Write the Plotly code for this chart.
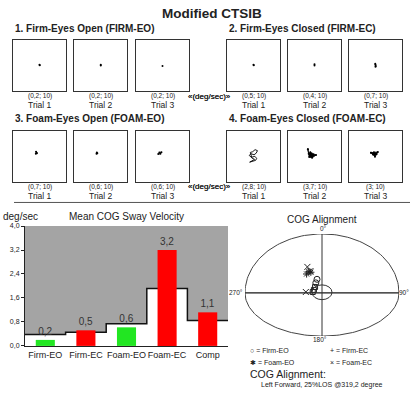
import numpy as np
import plotly.graph_objects as go

W, H = 418, 400

# ---------------- data ----------------
headers = ["1. Firm-Eyes Open (FIRM-EO)", "2. Firm-Eyes Closed (FIRM-EC)",
           "3. Foam-Eyes Open (FOAM-EO)", "4. Foam-Eyes Closed (FOAM-EC)"]
trial_labels = ["Trial 1", "Trial 2", "Trial 3"]
scale_value = 10
vel_firm_eo = [0.2, 0.2, 0.2]
vel_firm_ec = [0.5, 0.4, 0.7]
vel_foam_eo = [0.7, 0.6, 0.6]
vel_foam_ec = [2.8, 3.7, 3.0]

# sway traces (deg units inside each trial box, range -10..10)
sway_firm_eo_x = [[0.0, 0.1], [0.1, 0.1], [0.0]]
sway_firm_eo_y = [[0.4, 0.3], [0.4, 0.2], [0.0]]
sway_firm_ec_x = [[0.0, 0.1], [0.0, 0.0], [-0.1, 0.0, 0.1, 0.0]]
sway_firm_ec_y = [[0.4, 0.3], [0.6, 0.2], [0.8, 0.4, 0.0, -0.3]]
sway_foam_eo_x = [[-1.4, -1.1, -1.3, -1.0], [-1.5, -1.2, -1.4], [-1.6, -0.8, -0.4, -1.2]]
sway_foam_eo_y = [[1.0, 1.4, 1.8, 1.2], [1.0, 1.2, 1.5], [0.9, 1.0, 1.6, 1.5]]
sway_foam_ec_x = [[-1.5, -0.5, 0.8, 1.2, 0.5, -0.8, -1.6, -1.0, 0.2, 1.0, 1.5, 0.6, -0.3, -1.2, -0.6, 0.4, -1.4],
                  [-2.5, -2.2, -1.6, 0.6, -0.9, -2.0, -2.5],
                  [-1.7, -0.6, 0.9, 0.4, -0.2, -1.0, -1.7]]
sway_foam_ec_y = [[-2.3, -2.0, -1.6, -0.8, 0.0, -0.4, 0.3, 1.0, 0.6, 1.2, 2.2, 2.6, 1.8, 1.5, -0.7, -1.2, -2.3],
                  [2.8, 1.0, 1.6, 0.5, -0.6, -0.3, 2.8],
                  [1.4, 1.6, 1.7, 0.8, -0.2, 0.7, 1.4]]

bar_categories = ["Firm-EO", "Firm-EC", "Foam-EO", "Foam-EC", "Comp"]
bar_values = [0.2, 0.52, 0.62, 3.2, 1.12]
norm_values = [0.38, 0.46, 0.74, 1.92, 0.85]
y_ticks = [0.0, 0.8, 1.6, 2.4, 3.2, 4.0]

# COG alignment points (%LOS, x = left/right, y = forward/back)
cog_firm_eo_x = [-6.5, -8.0]
cog_firm_eo_y = [23.0, 17.0]
cog_firm_ec_x = [-9.0, -10.5, -12.0]
cog_firm_ec_y = [10.0, 5.0, 1.5]
cog_foam_eo_x = [-17.0, -20.0, -14.5]
cog_foam_eo_y = [36.0, 32.0, 35.0]
cog_foam_ec_x = [-19.0, -15.0, -21.0]
cog_foam_ec_y = [44.0, 37.0, 1.5]
los_forward, los_back, los_side = 100.0, 73.3, 100.0
cog_summary = "Left Forward, 25%LOS @319,2 degree"


def fmt(v):
    return ("%g" % v).replace(".", ",")


def px(x):
    return x / W


def py(y):
    return 1 - y / H


fig = go.Figure()
layout = dict(width=W, height=H, margin=dict(l=0, r=0, t=0, b=0),
              paper_bgcolor="white", plot_bgcolor="white", showlegend=False,
              separators=", ", font=dict(family="Liberation Sans, Arial", color="#222"))
annotations = []
shapes = []


def ann(text, x, y, size, bold=False, xanchor="center", color="#222"):
    annotations.append(dict(text=("<b>%s</b>" % text) if bold else text, x=px(x), y=py(y),
                            xref="paper", yref="paper", showarrow=False, xanchor=xanchor,
                            yanchor="middle", borderpad=0, font=dict(size=size, color=color)))


ann("Modified CTSIB", 212, 10, 13.5, bold=True)

box_x = [13, 74, 136, 227, 288, 349]
box_y = [37, 129]
box_w, box_h = 53, 52
conds = [(vel_firm_eo, sway_firm_eo_x, sway_firm_eo_y),
         (vel_firm_ec, sway_firm_ec_x, sway_firm_ec_y),
         (vel_foam_eo, sway_foam_eo_x, sway_foam_eo_y),
         (vel_foam_ec, sway_foam_ec_x, sway_foam_ec_y)]
header_pos = [(14, 25), (228, 25), (14, 117), (228, 117)]

ax_i = 0
for c, (vels, sx, sy) in enumerate(conds):
    row = c // 2
    col0 = (c % 2) * 3
    ann(headers[c], header_pos[c][0], header_pos[c][1], 10, bold=True, xanchor="left")
    for t in range(3):
        ax_i += 1
        n = "" if ax_i == 1 else str(ax_i)
        x0 = box_x[col0 + t]
        y0 = box_y[row]
        layout["xaxis" + n] = dict(domain=[px(x0), px(x0 + box_w)], range=[-10, 10],
                                   showgrid=False, zeroline=False, showticklabels=False,
                                   showline=True, mirror=True, linecolor="#333", linewidth=1,
                                   anchor="y" + n, fixedrange=True)
        layout["yaxis" + n] = dict(domain=[py(y0 + box_h), py(y0)], range=[-10, 10],
                                   showgrid=False, zeroline=False, showticklabels=False,
                                   showline=True, mirror=True, linecolor="#333", linewidth=1,
                                   anchor="x" + n, fixedrange=True)
        filled = c == 3 and t > 0
        scribble = c == 3 and t == 0
        fig.add_trace(go.Scatter(x=sx[t], y=sy[t], xaxis="x" + n, yaxis="y" + n,
                                 mode="lines" if scribble else ("lines+markers" if len(sx[t]) > 1 else "markers"),
                                 fill="toself" if filled else None, fillcolor="black",
                                 line=dict(color="black", width=0.9),
                                 marker=dict(size=2, color="black")))
        cx = x0 + box_w / 2
        ann("(%s; %d)" % (fmt(vels[t]), scale_value), cx, y0 + box_h + 5, 6.5)
        ann(trial_labels[t], cx, y0 + box_h + 14, 8.5)
    ann("«(deg/sec)»", 209, box_y[row] + box_h + 5, 8)

shapes.append(dict(type="line", xref="paper", yref="paper", x0=px(14), x1=px(410),
                   y0=py(202), y1=py(202), line=dict(color="#555", width=1)))

# ---------------- bar chart ----------------
layout["xaxis14"] = dict(domain=[px(25), px(228)], range=[-0.5, 4.5], anchor="y14",
                         tickvals=list(range(len(bar_categories))), ticktext=bar_categories,
                         tickangle=0, tickfont=dict(size=9, color="#222"), showgrid=False,
                         zeroline=False, showline=True, linecolor="#222", linewidth=1,
                         ticks="", fixedrange=True)
layout["yaxis14"] = dict(domain=[py(348), py(226)], range=[0, 4], anchor="x14",
                         tickvals=y_ticks, tickformat=".1f", tickfont=dict(size=7, color="#222"),
                         showgrid=False, zeroline=False, showline=True, linecolor="#222",
                         linewidth=1, ticks="outside", ticklen=3, tickcolor="#222", fixedrange=True)
layout["xaxis16"] = dict(overlaying="x14", range=[-0.5, 4.5], visible=False, fixedrange=True)
layout["yaxis16"] = dict(overlaying="y14", range=[0, 4], visible=False, fixedrange=True)
shapes.append(dict(type="rect", xref="x14", yref="y14", x0=-0.5, x1=4.5, y0=0, y1=4,
                   fillcolor="#a4a4a4", line=dict(width=0), layer="below"))
step_x = [i - 0.5 for i in range(len(norm_values) + 1)]
step_y = norm_values + [norm_values[-1]]
fig.add_trace(go.Scatter(x=step_x, y=step_y, xaxis="x14", yaxis="y14", mode="lines",
                         line=dict(shape="hv", color="#111", width=1.5),
                         fill="tozeroy", fillcolor="white"))
bar_colors = ["#22e622" if "EO" in c else "#ff0000" for c in bar_categories]
fig.add_trace(go.Bar(x=list(range(len(bar_categories))), y=bar_values, xaxis="x16", yaxis="y16",
                     marker=dict(color=bar_colors, line=dict(width=0)), width=0.47,
                     texttemplate="%{y:.1f}", textposition="outside",
                     textfont=dict(size=10, color="#333"), cliponaxis=False))
ann("deg/sec", 2, 216, 10, xanchor="left")
ann("Mean COG Sway Velocity", 127, 216, 10)

# ---------------- COG alignment ----------------
layout["xaxis15"] = dict(domain=[px(245), px(399)], range=[-los_side, los_side], anchor="y15",
                         visible=False, fixedrange=True)
layout["yaxis15"] = dict(domain=[py(338), py(234)], range=[-los_back, los_forward], anchor="x15",
                         visible=False, fixedrange=True)
t = np.linspace(0, np.pi, 90)
ex = np.concatenate([los_side * np.cos(t), los_side * np.cos(t[::-1] + np.pi)])
ey = np.concatenate([los_forward * np.sin(t), los_back * np.sin(t[::-1] + np.pi)])
fig.add_trace(go.Scatter(x=ex, y=ey, xaxis="x15", yaxis="y15", mode="lines",
                         line=dict(color="#444", width=1)))
shapes.append(dict(type="line", xref="x15", yref="y15", x0=0, x1=0, y0=-los_back, y1=los_forward,
                   line=dict(color="#333", width=1)))
shapes.append(dict(type="line", xref="x15", yref="y15", x0=-los_side, x1=los_side, y0=0, y1=0,
                   line=dict(color="#333", width=1)))
shapes.append(dict(type="circle", xref="x15", yref="y15", x0=-13, x1=13, y0=-11.5, y1=13.5,
                   line=dict(color="#333", width=1)))
for xs, ys, sym, sz in [(cog_firm_eo_x, cog_firm_eo_y, "circle-open", 6),
                        (cog_firm_ec_x, cog_firm_ec_y, "square-open", 5),
                        (cog_foam_eo_x, cog_foam_eo_y, "asterisk-open", 6),
                        (cog_foam_ec_x, cog_foam_ec_y, "x-thin-open", 6)]:
    fig.add_trace(go.Scatter(x=xs, y=ys, xaxis="x15", yaxis="y15", mode="markers",
                             marker=dict(symbol=sym, size=sz, color="#222",
                                         line=dict(color="#222", width=1))))
ann("COG Alignment", 322, 219, 10)
ann("0°", 323, 229, 6.5)
ann("180°", 320, 341, 6.5)
ann("270°", 236, 294, 6.5)
ann("90°", 404, 294, 6.5)
ann("○ = Firm-EO", 249, 353, 7, xanchor="left")
ann("+ = Firm-EC", 329, 353, 7, xanchor="left")
ann("✱ = Foam-EO", 249, 365, 7, xanchor="left")
ann("× = Foam-EC", 329, 365, 7, xanchor="left")
ann("COG Alignment:", 249, 377, 10.5, xanchor="left")
ann(cog_summary, 260, 388, 7, xanchor="left")

layout["annotations"] = annotations
layout["shapes"] = shapes
fig.update_layout(**layout)
fig.write_html("out.html", config={"displayModeBar": False},
               post_script="document.body.style.margin='0';")
